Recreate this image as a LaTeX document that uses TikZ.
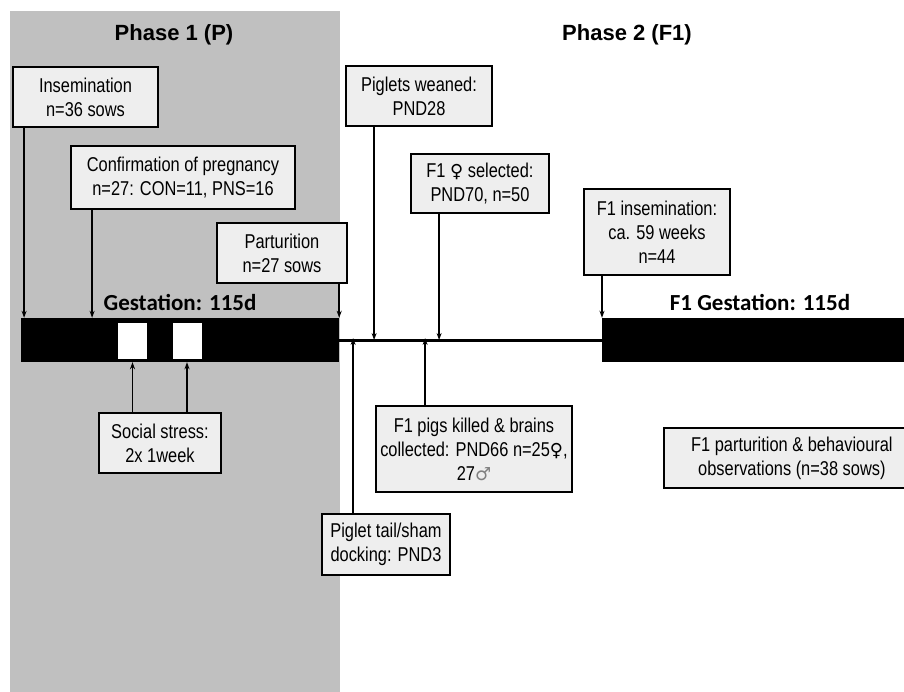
\documentclass[tikz,border=0pt]{standalone}
\usepackage{fontspec}
\setmainfont{Liberation Sans}[FakeStretch=0.82]
\newfontfamily\headfont{Liberation Sans}
\newfontfamily\symfont{DejaVu Sans}
\newfontfamily\gestfont{Carlito}
\usetikzlibrary{arrows.meta}

\begin{document}
\begin{tikzpicture}[x=1pt, y=-1pt,
      box/.style={draw, line width=1.8pt, fill=boxgray, inner sep=0pt, align=center,
        font=\fontsize{20}{24}\selectfont},
      bar/.style={fill=black, inner sep=0pt, minimum height=44pt},
      gap/.style={fill=white, inner sep=0pt, minimum width=29pt, minimum height=36pt},
      phase/.style={font=\headfont\bfseries\fontsize{22}{26}\selectfont},
      barlabel/.style={font=\gestfont\bfseries\fontsize{23}{26}\selectfont},
      arr/.style={line width=1.6pt, -{Stealth[length=7pt,width=5pt]}}
      ]
      \definecolor{panelgray}{RGB}{192,192,192}
      \definecolor{boxgray}{RGB}{238,238,238}
      \useasboundingbox (0,0) rectangle (904,692);
      \fill[panelgray] (10,11) rectangle (340,692);
      \node[phase] (ph1) at (174,35) {Phase 1 (P)};
      \node[phase] (ph2) at (627,35) {Phase 2 (F1)};

      % time line
      \node[bar, minimum width=318pt] (gest) at (180,340) {};
      \node[bar, minimum width=320pt, anchor=west] (f1gest) at (602,340) {};
      \node[gap] (s1) at (132.5,341) {};
      \node[gap] (s2) at (187,341) {};
      \draw[line width=3pt] (gest.east) -- (f1gest.west);
      \node[barlabel] (gestlbl) at (180,302) {Gestation: 115d};
      \node[barlabel] (f1gestlbl) at (760,302) {F1 Gestation: 115d};

      % events
      \node[box, minimum width=145pt, minimum height=60pt] (ins) at (85.5,97) {Insemination\\n=36 sows};
      \node[box, minimum width=224pt, minimum height=63pt] (conf) at (183,177.5) {Confirmation of pregnancy\\n=27: CON=11, PNS=16};
      \node[box, minimum width=130pt, minimum height=60pt] (part) at (282,253) {Parturition\\n=27 sows};
      \node[box, minimum width=146pt, minimum height=60pt] (wean) at (419,96) {Piglets weaned:\\PND28};
      \node[box, minimum width=138pt, minimum height=59pt] (sel) at (480,183.5) {F1 {\symfont\fontsize{18}{24}\selectfont♀} selected:\\PND70, n=50};
      \node[box, minimum width=146pt, minimum height=86pt] (f1ins) at (657,232) {F1 insemination:\\ca. 59 weeks\\n=44};
      \node[box, minimum width=122pt, minimum height=60pt] (stress) at (160,443) {Social stress:\\2x 1week};
      \node[box, minimum width=196pt, minimum height=86pt] (kill) at (474,449) {F1 pigs killed \& brains\\collected: PND66 n=25{\symfont\fontsize{18}{24}\selectfont♀},\\27{\symfont\fontsize{18}{24}\selectfont\color{gray}♂}};
      \node[box, minimum width=128pt, minimum height=61pt] (tail) at (386,544.5) {Piglet tail/sham\\docking: PND3};
      \node[box, minimum width=256pt, minimum height=60pt, anchor=west] (f1part) at (663,458) {F1 parturition \& behavioural\\observations (n=38 sows)};

      \draw[arr] ([xshift=12pt]ins.south west) coordinate (a1) -- (a1 |- gest.north);
      \draw[arr] ([xshift=22pt]conf.south west) coordinate (a2) -- (a2 |- gest.north);
      \draw[arr] (part.south -| gest.east) -- (gest.north east);
      \draw[arr] ([xshift=29pt]wean.south west) coordinate (a3) -- (a3 |- gest.east);
      \draw[arr] ([xshift=29pt]sel.south west) coordinate (a4) -- (a4 |- gest.east);
      \draw[arr] (f1ins.south -| f1gest.west) -- (f1gest.north west);
      \draw[arr] (stress.north -| s1) -- (s1 |- gest.south);
      \draw[arr] (stress.north -| s2) -- (s2 |- gest.south);
      \draw[arr] ([xshift=32pt]tail.north west) coordinate (a5) -- ([yshift=2pt]a5 |- gest.east);
      \draw[arr] ([xshift=50pt]kill.north west) coordinate (a6) -- ([yshift=2pt]a6 |- gest.east);
    \end{tikzpicture}
\end{document}
